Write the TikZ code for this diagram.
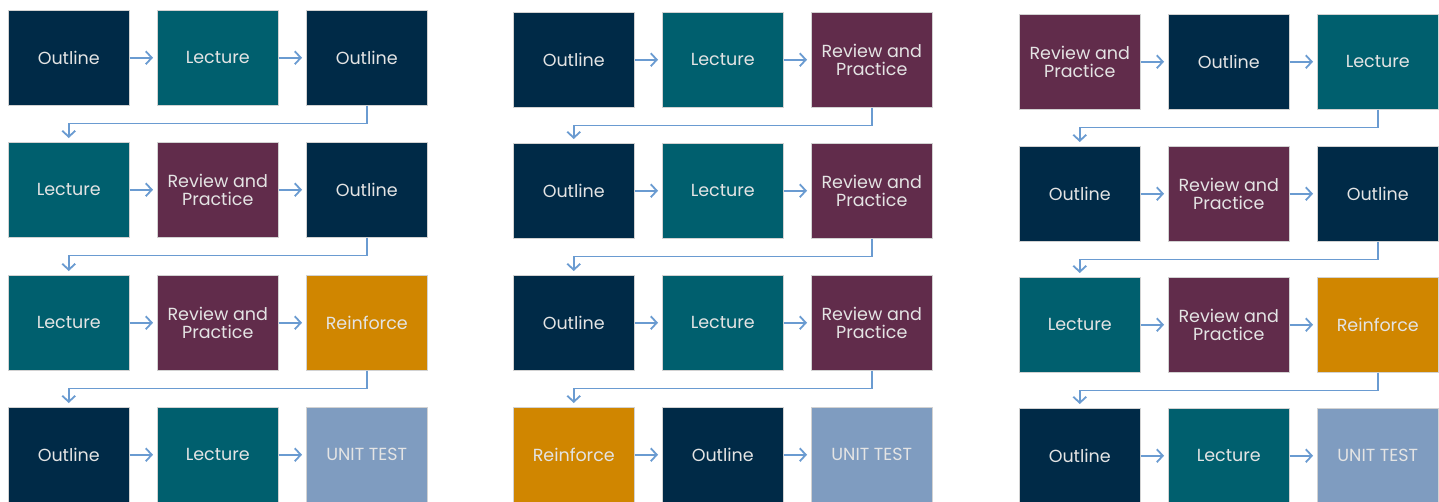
\documentclass[tikz,border=0pt]{standalone}
\usepackage{fontspec}
\setmainfont{Poppins}
\usetikzlibrary{arrows.meta}
\definecolor{navy}{RGB}{0,42,71}
\definecolor{teal}{RGB}{0,95,110}
\definecolor{plum}{RGB}{97,44,75}
\definecolor{amber}{RGB}{208,134,0}
\definecolor{steel}{RGB}{127,156,192}
\definecolor{flowblue}{RGB}{106,155,209}
\definecolor{pale}{RGB}{228,228,228}
\tikzset{
  box/.style={anchor=north west, minimum width=121pt, minimum height=95pt,
    inner sep=0pt, draw=gray!35, line width=0.5pt, text=pale, align=center,
    font=\fontsize{17.5}{18.5}\selectfont},
  outlinebox/.style={box, fill=navy},
  lecturebox/.style={box, fill=teal},
  reviewbox/.style={box, fill=plum},
  reinforcebox/.style={box, fill=amber},
  testbox/.style={box, fill=steel},
  flow/.style={draw=flowblue, line width=1.8pt, -{Straight Barb[length=6pt,width=13pt]}, shorten >=4pt}
}
\begin{document}
\begin{tikzpicture}[x=1pt,y=-1pt]
  \useasboundingbox (0,0) rectangle (1439,501);
  % first plan
  \path (8,10) node[outlinebox] (a1) {Outline};
  \path (157,10) node[lecturebox] (a2) {Lecture};
  \path (306,10) node[outlinebox] (a3) {Outline};
  \path (8,142) node[lecturebox] (a4) {Lecture};
  \path (157,142) node[reviewbox] (a5) {Review and\\Practice};
  \path (306,142) node[outlinebox] (a6) {Outline};
  \path (8,275) node[lecturebox] (a7) {Lecture};
  \path (157,275) node[reviewbox] (a8) {Review and\\Practice};
  \path (306,275) node[reinforcebox] (a9) {Reinforce};
  \path (8,407) node[outlinebox] (a10) {Outline};
  \path (157,407) node[lecturebox] (a11) {Lecture};
  \path (306,407) node[testbox] (a12) {UNIT TEST};
  % second plan
  \path (513,12) node[outlinebox] (b1) {Outline};
  \path (662,12) node[lecturebox] (b2) {Lecture};
  \path (811,12) node[reviewbox] (b3) {Review and\\Practice};
  \path (513,143) node[outlinebox] (b4) {Outline};
  \path (662,143) node[lecturebox] (b5) {Lecture};
  \path (811,143) node[reviewbox] (b6) {Review and\\Practice};
  \path (513,275) node[outlinebox] (b7) {Outline};
  \path (662,275) node[lecturebox] (b8) {Lecture};
  \path (811,275) node[reviewbox] (b9) {Review and\\Practice};
  \path (513,407) node[reinforcebox] (b10) {Reinforce};
  \path (662,407) node[outlinebox] (b11) {Outline};
  \path (811,407) node[testbox] (b12) {UNIT TEST};
  % third plan
  \path (1019,14) node[reviewbox] (c1) {Review and\\Practice};
  \path (1168,14) node[outlinebox] (c2) {Outline};
  \path (1317,14) node[lecturebox] (c3) {Lecture};
  \path (1019,146) node[outlinebox] (c4) {Outline};
  \path (1168,146) node[reviewbox] (c5) {Review and\\Practice};
  \path (1317,146) node[outlinebox] (c6) {Outline};
  \path (1019,277) node[lecturebox] (c7) {Lecture};
  \path (1168,277) node[reviewbox] (c8) {Review and\\Practice};
  \path (1317,277) node[reinforcebox] (c9) {Reinforce};
  \path (1019,408) node[outlinebox] (c10) {Outline};
  \path (1168,408) node[lecturebox] (c11) {Lecture};
  \path (1317,408) node[testbox] (c12) {UNIT TEST};
  % arrows
  \foreach \p in {a,b,c} {
    \foreach \i/\j in {1/2,2/3,4/5,5/6,7/8,8/9,10/11,11/12}
      \draw[flow] (\p\i) -- (\p\j);
    \foreach \i/\j in {3/4,6/7,9/10}
      \draw[flow] (\p\i.south) -- ++(0,18) -| (\p\j.north);
  }
\end{tikzpicture}
\end{document}
